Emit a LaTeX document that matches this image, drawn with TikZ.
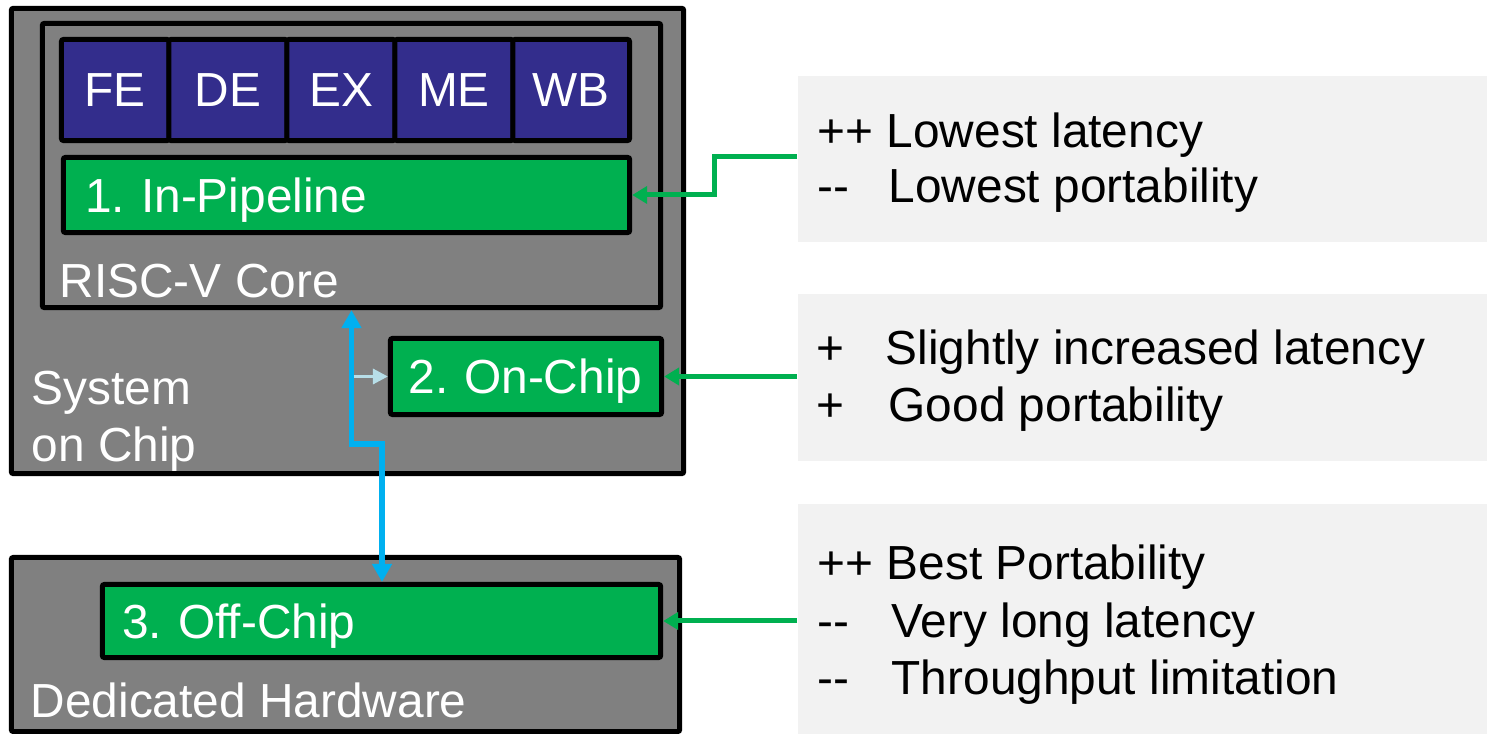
\documentclass[tikz,border=0pt]{standalone}
\usepackage{fontspec}
\setmainfont{Liberation Sans}
\usetikzlibrary{arrows.meta}

\definecolor{boxgray}{HTML}{808080}
\definecolor{stageblue}{HTML}{332D8C}
\definecolor{unitgreen}{HTML}{00B050}
\definecolor{panelgray}{HTML}{F2F2F2}
\definecolor{busblue}{HTML}{00B0F0}
\definecolor{tapblue}{HTML}{B7DEE8}

\begin{document}
\frenchspacing
\begin{tikzpicture}[x=0.01cm,y=-0.01cm,
  every node/.style={font=\fontsize{13.6}{16.2}\selectfont},
  frame/.style={draw=black, line width=0.05cm, rounded corners=0.02cm,
                fill=boxgray, inner sep=0pt},
  stage/.style={frame, fill=stageblue, text=white, minimum height=1.01cm},
  unit/.style={frame, fill=unitgreen, text=white, inner xsep=0.2cm,
               inner ysep=0pt, align=left, text depth=0pt},
  lbl/.style={text=white, inner sep=0pt, anchor=base west},
  panel/.style={fill=panelgray, inner sep=0pt, anchor=north west,
                minimum width=6.9cm},
  pt/.style={text=black, inner sep=0pt, anchor=base west},
  link/.style={draw=unitgreen, line width=0.05cm,
               -{Triangle[length=0.15cm,width=0.17cm]}},
  bus/.style={draw=busblue, line width=0.055cm,
              {Triangle[length=0.18cm,width=0.19cm]}-{Triangle[length=0.18cm,width=0.19cm]}},
  tap/.style={draw=tapblue, line width=0.033cm,
              -{Triangle[length=0.15cm,width=0.15cm]}}
]
\useasboundingbox (0,0) rectangle (1487,734);

% ---- System on Chip ----
\node[frame, minimum width=6.72cm, minimum height=4.65cm] (soc) at (347.5,241) {};
\node[lbl] (socA) at (31,405) {System};
\node[lbl] (socB) at (31,462) {on Chip};

% ---- RISC-V core with its pipeline ----
\node[frame, minimum width=6.18cm, minimum height=2.84cm] (core) at (351.5,165.5) {};
\node[lbl] (coreT) at (59,298) {RISC-V Core};

\node[stage, minimum width=1.075cm] (fe) at (115.25,90) {FE};
\node[stage, minimum width=1.18cm]  (de) at (228,90)    {DE};
\node[stage, minimum width=1.08cm]  (ex) at (341,90)    {EX};
\node[stage, minimum width=1.18cm]  (me) at (454,90)    {ME};
\node[stage, minimum width=1.165cm] (wb) at (571.25,90) {WB};

\node[unit, inner xsep=0.22cm, text width=5.22cm, minimum height=0.75cm] (inpipe) at (346.5,195) {1. In-Pipeline};
\node[unit, inner xsep=0.18cm, text width=2.35cm, minimum height=0.76cm] (onchip) at (526,376.5) {2. On-Chip};

% ---- Dedicated hardware ----
\node[frame, minimum width=6.68cm, minimum height=1.74cm] (dedi) at (345.5,644.5) {};
\node[lbl] (dediT) at (30,718) {Dedicated Hardware};
\node[unit, text width=5.18cm, minimum height=0.73cm] (offchip) at (381.5,621) {3. Off-Chip};

% ---- Trade-off panels ----
\node[panel, minimum height=1.66cm] (p1) at (797,75) {};
\node[panel, minimum height=1.67cm] (p2) at (797,293) {};
\node[panel, minimum height=2.31cm] (p3) at (797,503) {};

\node[pt] (t1a) at (817,148) {++};
\node[pt] (t1b) at (886,148) {Lowest latency};
\node[pt] (t1c) at (817,203) {-{}-};
\node[pt] (t1d) at (888,203) {Lowest portability};

\node[pt] (t2a) at (816,365) {+};
\node[pt] (t2b) at (885,365) {Slightly increased latency};
\node[pt] (t2c) at (816,422) {+};
\node[pt] (t2d) at (888,422) {Good portability};

\node[pt] (t3a) at (817,580) {++};
\node[pt] (t3b) at (886,580) {Best Portability};
\node[pt] (t3c) at (817,638) {-{}-};
\node[pt] (t3d) at (891,638) {Very long latency};
\node[pt] (t3e) at (817,695) {-{}-};
\node[pt] (t3f) at (891,695) {Throughput limitation};

% ---- Connectors ----
\coordinate (g1s) at (797,157);
\coordinate (g1m) at (714,195);
\draw[link] (g1s) -| (g1m) |- (inpipe.east);
\draw[link] (onchip.east -| p2.west) -- (onchip.east);
\draw[link] (offchip.east -| p3.west) -- (offchip.east);

\coordinate (bx) at (351.5,444);
\coordinate (by) at (382,444);
\draw[tap] (onchip.west -| bx) -- (onchip.west);
\draw[bus] (core.south) -- (bx) -- (by) -- (offchip.north -| by);
\end{tikzpicture}
\end{document}
